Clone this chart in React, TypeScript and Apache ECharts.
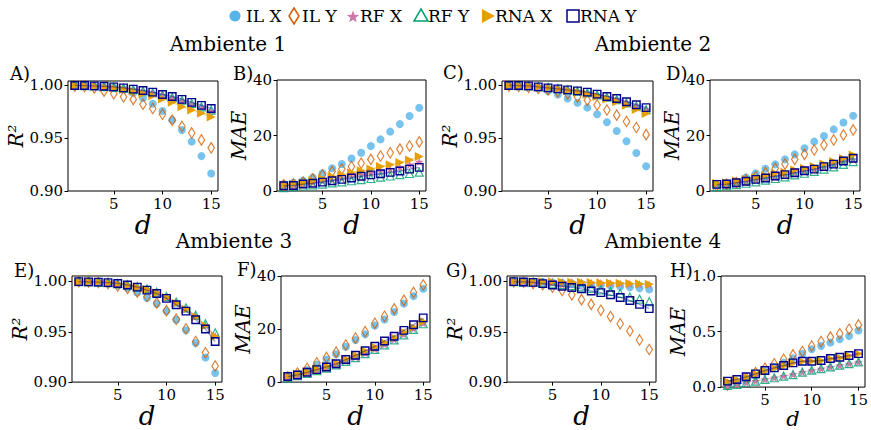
import React, { useEffect, useRef } from 'react';
import * as echarts from 'echarts';

// x values (d)
const dValues = [1, 2, 3, 4, 5, 6, 7, 8, 9, 10, 11, 12, 13, 14, 15];
const xTicks = [5, 10, 15];
const r2Ticks = [0.9, 0.95, 1.0];

const seriesNames = ['IL X', 'IL Y', 'RF X', 'RF Y', 'RNA X', 'RNA Y'];
const panelLetters = ['A)', 'B)', 'C)', 'D)', 'E)', 'F)', 'G)', 'H)'];
const envTitles = ['Ambiente 1', 'Ambiente 2', 'Ambiente 3', 'Ambiente 4'];

// Panel A (R2, Ambiente 1)
const A_ILX = [0.9999, 0.9997, 0.999, 0.998, 0.9975, 0.996, 0.9928, 0.988, 0.9825, 0.9757, 0.967, 0.9577, 0.9467, 0.933, 0.9165];
const A_ILY = [0.9991, 0.9988, 0.9975, 0.9944, 0.992, 0.989, 0.9866, 0.982, 0.978, 0.9726, 0.967, 0.961, 0.9549, 0.9483, 0.9408];
const A_RFX = [0.9998, 0.9996, 0.9992, 0.9987, 0.998, 0.997, 0.9958, 0.9943, 0.9925, 0.9903, 0.9878, 0.985, 0.9818, 0.979, 0.9757];
const A_RFY = [0.9998, 0.9996, 0.9993, 0.9988, 0.9982, 0.9972, 0.996, 0.9946, 0.9929, 0.9908, 0.9885, 0.9858, 0.9828, 0.9796, 0.9765];
const A_RNAX = [0.9998, 0.9995, 0.999, 0.998, 0.9975, 0.996, 0.9944, 0.992, 0.99, 0.987, 0.984, 0.9797, 0.9766, 0.9735, 0.97];
const A_RNAY = [0.9998, 0.9997, 0.9994, 0.999, 0.9984, 0.9975, 0.9963, 0.995, 0.9935, 0.9913, 0.9894, 0.9866, 0.9838, 0.981, 0.978];

// Panel B (MAE, Ambiente 1)
const B_ILX = [2.5, 3.0, 3.7, 4.9, 6.4, 8.2, 9.7, 11.7, 13.8, 16.2, 18.6, 21.4, 24.1, 27.0, 30.0];
const B_ILY = [2.2, 2.5, 3.2, 4.3, 5.8, 7.0, 7.9, 8.8, 10.0, 11.4, 12.6, 13.8, 15.1, 16.2, 17.7];
const B_RFX = [2.0, 2.2, 2.6, 3.0, 3.5, 4.0, 4.6, 5.2, 5.8, 6.5, 7.2, 7.9, 8.6, 9.5, 10.5];
const B_RFY = [1.2, 1.5, 1.8, 2.2, 2.5, 2.9, 3.3, 3.7, 4.1, 4.5, 5.0, 5.4, 5.9, 6.3, 6.8];
const B_RNAX = [2.2, 2.4, 3.0, 3.7, 4.4, 5.2, 5.9, 6.6, 7.3, 7.9, 8.8, 9.5, 10.3, 11.2, 12.4];
const B_RNAY = [1.9, 2.0, 2.5, 2.8, 3.2, 3.7, 4.2, 4.7, 5.3, 5.8, 6.2, 6.7, 7.2, 7.9, 8.5];

// Panel C (R2, Ambiente 2)
const C_ILX = [0.9999, 0.9996, 0.999, 0.9975, 0.9944, 0.9913, 0.9875, 0.9835, 0.9788, 0.9726, 0.965, 0.9567, 0.947, 0.936, 0.9234];
const C_ILY = [0.999, 0.9988, 0.998, 0.9969, 0.9956, 0.9938, 0.9919, 0.9888, 0.9857, 0.9813, 0.9766, 0.9717, 0.9657, 0.96, 0.9533];
const C_RFX = [0.9998, 0.9996, 0.9993, 0.9987, 0.998, 0.997, 0.9958, 0.9945, 0.993, 0.991, 0.9888, 0.9866, 0.9835, 0.9805, 0.9772];
const C_RFY = [0.9998, 0.9996, 0.9993, 0.9987, 0.998, 0.9969, 0.9957, 0.9944, 0.9929, 0.9909, 0.9887, 0.9864, 0.9833, 0.9803, 0.9768];
const C_RNAX = [0.9998, 0.9996, 0.9992, 0.9985, 0.9976, 0.9964, 0.995, 0.9935, 0.9915, 0.9893, 0.987, 0.9845, 0.981, 0.977, 0.9732];
const C_RNAY = [0.9998, 0.9997, 0.9994, 0.9984, 0.9975, 0.9966, 0.9956, 0.9947, 0.9935, 0.9916, 0.9894, 0.9875, 0.9844, 0.9816, 0.9788];

// Panel D (MAE, Ambiente 2)
const D_ILX = [2.2, 2.8, 3.4, 4.9, 6.4, 8.0, 9.6, 11.4, 13.2, 15.4, 17.8, 19.8, 22.2, 24.7, 27.1];
const D_ILY = [1.9, 2.4, 3.0, 4.0, 5.2, 6.6, 8.2, 9.7, 11.4, 13.2, 14.8, 16.6, 18.4, 20.2, 22.0];
const D_RFX = [2.2, 2.4, 2.8, 3.3, 3.9, 4.5, 5.1, 5.7, 6.4, 7.0, 7.7, 8.5, 9.4, 10.4, 11.4];
const D_RFY = [1.6, 1.9, 2.3, 2.8, 3.3, 3.9, 4.5, 5.1, 5.8, 6.4, 7.1, 7.9, 8.7, 9.6, 10.6];
const D_RNAX = [2.8, 3.0, 3.7, 4.2, 4.9, 5.6, 6.4, 6.8, 7.6, 8.2, 8.8, 9.7, 10.6, 11.7, 13.0];
const D_RNAY = [2.4, 2.5, 3.0, 3.5, 4.2, 4.7, 5.4, 5.9, 6.6, 7.3, 7.9, 8.8, 9.7, 10.8, 11.8];

// Panel E (R2, Ambiente 3)
const E_ILX = [0.9998, 0.9995, 0.999, 0.9978, 0.9959, 0.9933, 0.989, 0.9835, 0.9778, 0.9705, 0.962, 0.9514, 0.9388, 0.9245, 0.909];
const E_ILY = [0.9998, 0.9995, 0.999, 0.998, 0.9955, 0.993, 0.9895, 0.985, 0.9787, 0.971, 0.9625, 0.953, 0.9403, 0.9292, 0.916];
const E_RFX = [0.9998, 0.9997, 0.9994, 0.9986, 0.9976, 0.9963, 0.9945, 0.9922, 0.9888, 0.9843, 0.9787, 0.9727, 0.9655, 0.9565, 0.946];
const E_RFY = [0.9998, 0.9997, 0.9994, 0.9987, 0.9978, 0.9966, 0.9948, 0.9926, 0.9893, 0.985, 0.9796, 0.9738, 0.9665, 0.958, 0.949];
const E_RNAX = [0.9998, 0.9996, 0.9994, 0.9985, 0.9975, 0.9962, 0.9943, 0.992, 0.9886, 0.984, 0.9784, 0.9724, 0.965, 0.956, 0.9455];
const E_RNAY = [0.9998, 0.9996, 0.9993, 0.9988, 0.998, 0.9965, 0.9943, 0.9914, 0.988, 0.9832, 0.9768, 0.9705, 0.962, 0.9527, 0.9403];

// Panel F (MAE, Ambiente 3)
const F_ILX = [1.8, 3.0, 4.5, 6.6, 8.5, 10.5, 13.3, 15.9, 18.0, 21.3, 23.6, 26.4, 29.6, 32.4, 35.2];
const F_ILY = [2.0, 3.4, 5.2, 7.3, 9.3, 11.3, 14.0, 16.6, 19.0, 22.2, 24.8, 27.6, 30.8, 33.8, 36.6];
const F_RFX = [1.8, 2.6, 3.5, 4.5, 5.5, 6.7, 8.0, 9.4, 10.9, 12.5, 14.2, 16.1, 18.0, 20.1, 22.2];
const F_RFY = [1.6, 2.4, 3.3, 4.3, 5.3, 6.5, 7.8, 9.2, 10.7, 12.3, 14.0, 15.9, 17.8, 19.9, 22.0];
const F_RNAX = [2.1, 3.0, 3.9, 4.9, 6.0, 7.3, 8.7, 10.1, 11.7, 13.2, 14.9, 16.8, 18.9, 20.7, 22.8];
const F_RNAY = [2.1, 2.7, 3.7, 4.7, 5.7, 6.9, 8.5, 10.1, 11.8, 13.5, 15.5, 17.3, 19.5, 21.6, 24.2];

// Panel G (R2, Ambiente 4)
const G_ILX = [0.9999, 0.9998, 0.9996, 0.9993, 0.999, 0.9986, 0.9981, 0.9976, 0.997, 0.9964, 0.9957, 0.995, 0.9943, 0.9933, 0.9921];
const G_ILY = [0.9996, 0.9992, 0.998, 0.9968, 0.9943, 0.991, 0.9867, 0.9819, 0.9772, 0.9714, 0.9651, 0.958, 0.9508, 0.9419, 0.9324];
const G_RFX = [0.9999, 0.9999, 0.9998, 0.9997, 0.9996, 0.9994, 0.9992, 0.999, 0.9987, 0.9984, 0.9981, 0.9978, 0.9975, 0.9971, 0.9967];
const G_RFY = [0.9998, 0.9996, 0.9992, 0.9985, 0.9977, 0.9968, 0.9958, 0.9946, 0.9932, 0.9917, 0.99, 0.9882, 0.9845, 0.9825, 0.98];
const G_RNAX = [0.9999, 0.9999, 0.9998, 0.9997, 0.9996, 0.9995, 0.9993, 0.9991, 0.9989, 0.9987, 0.9985, 0.9982, 0.9979, 0.9976, 0.9973];
const G_RNAY = [0.9998, 0.9995, 0.9991, 0.9978, 0.9965, 0.9952, 0.994, 0.9927, 0.9905, 0.9889, 0.9867, 0.9841, 0.981, 0.9772, 0.973];

// Panel H (MAE, Ambiente 4)
const H_ILX = [0.01, 0.03, 0.06, 0.1, 0.14, 0.18, 0.22, 0.26, 0.3, 0.34, 0.37, 0.4, 0.43, 0.46, 0.51];
const H_ILY = [0.02, 0.04, 0.08, 0.13, 0.17, 0.21, 0.25, 0.29, 0.32, 0.37, 0.41, 0.45, 0.48, 0.52, 0.56];
const H_RFX = [0.015, 0.025, 0.04, 0.055, 0.07, 0.085, 0.1, 0.115, 0.135, 0.15, 0.165, 0.18, 0.195, 0.21, 0.225];
const H_RFY = [0.015, 0.024, 0.039, 0.054, 0.069, 0.084, 0.099, 0.113, 0.134, 0.152, 0.167, 0.182, 0.197, 0.212, 0.227];
const H_RNAX = [0.05, 0.065, 0.09, 0.12, 0.145, 0.17, 0.19, 0.215, 0.23, 0.232, 0.238, 0.255, 0.265, 0.28, 0.3];
const H_RNAY = [0.054, 0.069, 0.093, 0.119, 0.149, 0.173, 0.194, 0.218, 0.233, 0.233, 0.239, 0.257, 0.269, 0.284, 0.301];

const panelData = [
  [A_ILX, A_ILY, A_RFX, A_RFY, A_RNAX, A_RNAY],
  [B_ILX, B_ILY, B_RFX, B_RFY, B_RNAX, B_RNAY],
  [C_ILX, C_ILY, C_RFX, C_RFY, C_RNAX, C_RNAY],
  [D_ILX, D_ILY, D_RFX, D_RFY, D_RNAX, D_RNAY],
  [E_ILX, E_ILY, E_RFX, E_RFY, E_RNAX, E_RNAY],
  [F_ILX, F_ILY, F_RFX, F_RFY, F_RNAX, F_RNAY],
  [G_ILX, G_ILY, G_RFX, G_RFY, G_RNAX, G_RNAY],
  [H_ILX, H_ILY, H_RFX, H_RFY, H_RNAX, H_RNAY],
];

// ---------------- layout / styles ----------------
const FONT = 'DejaVu Serif';
const STAR = 'path://M0,-10L2.35,-3.24L9.51,-3.09L3.8,1.24L5.88,8.09L0,4L-5.88,8.09L-3.8,1.24L-9.51,-3.09L-2.35,-3.24Z';
const COLORS = ['#56B4E9', '#D55E00', '#CC79A7', '#009E73', '#E69F00', '#00008B'];

// kind: r2 | mae | mae1
const layout = [
  { left: 68, top: 81, w: 150, h: 110, kind: 'r2', max: 1.004, yGap: 33, xGap: 17, xFont: 26, lx: 10, ly: 73 },
  { left: 277, top: 80, w: 149, h: 111, kind: 'mae', yGap: 21, xGap: 17, xFont: 26, lx: 233, ly: 73 },
  { left: 502, top: 81, w: 151, h: 110, kind: 'r2', max: 1.004, yGap: 37, xGap: 17, xFont: 26, lx: 443, ly: 72 },
  { left: 710, top: 80, w: 150, h: 111, kind: 'mae', yGap: 16, xGap: 17, xFont: 26, lx: 666, ly: 73 },
  { left: 72, top: 276, w: 150, h: 111, kind: 'r2', max: 1.0054, yGap: 34, xGap: 19, xFont: 26, lx: 14, ly: 270 },
  { left: 281, top: 276, w: 149, h: 112, kind: 'mae', yGap: 20, xGap: 19, xFont: 26, lx: 237, ly: 269 },
  { left: 507, top: 276, w: 149, h: 111, kind: 'r2', max: 1.0054, yGap: 33, xGap: 19, xFont: 26, lx: 446, ly: 270 },
  { left: 721, top: 276, w: 148, h: 112, kind: 'mae1', yGap: 25, xGap: 15, xFont: 21, lx: 670, ly: 270 },
];

const titlePos = [
  { x: 228, y: 44 },
  { x: 653, y: 44 },
  { x: 234, y: 241 },
  { x: 663, y: 241 },
];

function seriesStyle(k: number) {
  const c = COLORS[k];
  switch (k) {
    case 0:
      return { symbol: 'circle', symbolSize: 8, itemStyle: { color: c } };
    case 1:
      return { symbol: 'diamond', symbolSize: [6.5, 10.5], itemStyle: { color: 'rgba(0,0,0,0)', borderColor: c, borderWidth: 1.2 } };
    case 2:
      return { symbol: STAR, symbolSize: 8.5, itemStyle: { color: c } };
    case 3:
      return { symbol: 'triangle', symbolSize: 8, itemStyle: { color: 'rgba(0,0,0,0)', borderColor: c, borderWidth: 1.2 } };
    case 4:
      return { symbol: 'triangle', symbolSize: 9, symbolRotate: -90, itemStyle: { color: c } };
    default:
      return { symbol: 'rect', symbolSize: 7.5, itemStyle: { color: 'rgba(0,0,0,0)', borderColor: c, borderWidth: 1.4 } };
  }
}

function buildOption() {
  const grid: any[] = [];
  const xAxis: any[] = [];
  const yAxis: any[] = [];
  const series: any[] = [];

  layout.forEach((p, i) => {
    grid.push({ left: p.left, top: p.top, width: p.w, height: p.h, show: true, borderColor: '#000', borderWidth: 1, containLabel: false });
    xAxis.push({
      gridIndex: i,
      type: 'value',
      min: 0.3,
      max: 15.7,
      axisLine: { show: false },
      splitLine: { show: false },
      axisTick: { show: true, length: 3.5, customValues: xTicks, lineStyle: { color: '#000' } },
      axisLabel: { customValues: xTicks, fontFamily: FONT, fontSize: 15, color: '#000', margin: 5 },
      name: 'd',
      nameLocation: 'middle',
      nameGap: p.xGap,
      nameTextStyle: { fontFamily: FONT, fontStyle: 'italic', fontSize: p.xFont, color: '#000' },
    });
    const yBase: any = {
      gridIndex: i,
      type: 'value',
      axisLine: { show: false },
      splitLine: { show: false },
      nameLocation: 'middle',
      nameGap: p.yGap,
      nameTextStyle: { fontFamily: FONT, fontStyle: 'italic', fontSize: 20, color: '#000' },
    };
    if (p.kind === 'r2') {
      yAxis.push({
        ...yBase,
        min: 0.9,
        max: p.max,
        name: 'R²',
        axisTick: { show: true, length: 3.5, customValues: r2Ticks, lineStyle: { color: '#000' } },
        axisLabel: { customValues: r2Ticks, formatter: (v: number) => v.toFixed(2), fontFamily: FONT, fontSize: 15, color: '#000', margin: 5 },
      });
    } else if (p.kind === 'mae') {
      yAxis.push({
        ...yBase,
        min: 0,
        max: 40,
        interval: 20,
        name: 'MAE',
        axisTick: { show: true, length: 3.5, lineStyle: { color: '#000' } },
        axisLabel: { fontFamily: FONT, fontSize: 15, color: '#000', margin: 5 },
      });
    } else {
      yAxis.push({
        ...yBase,
        min: 0,
        max: 1,
        interval: 0.5,
        name: 'MAE',
        axisTick: { show: true, length: 3.5, lineStyle: { color: '#000' } },
        axisLabel: { formatter: (v: number) => v.toFixed(1), fontFamily: FONT, fontSize: 15, color: '#000', margin: 5 },
      });
    }

    panelData[i].forEach((arr, k) => {
      const withLine = k === 2 || k === 4 || k === 5;
      const st = seriesStyle(k);
      series.push({
        name: seriesNames[k],
        type: withLine ? 'line' : 'scatter',
        xAxisIndex: i,
        yAxisIndex: i,
        data: dValues.map((d, j) => [d, arr[j]]),
        ...st,
        ...(withLine
          ? { showSymbol: true, showAllSymbol: true, lineStyle: { color: COLORS[k], width: 1.3, opacity: 0.4 } }
          : {}),
        z: 2 + k,
        silent: true,
      });
    });
  });

  // graphic: legend, titles, panel letters
  const graphic: any[] = [];
  const ly = 16;
  const lf = `17px "${FONT}"`;
  const legendItems = [
    { sx: 235, tx: 246, text: 'IL X' },
    { sx: 294, tx: 302, text: 'IL Y' },
    { sx: 353, tx: 360, text: 'RF X' },
    { sx: 421, tx: 428, text: 'RF Y' },
    { sx: 488, tx: 495, text: 'RNA X' },
    { sx: 573, tx: 580, text: 'RNA Y' },
  ];
  const starPts: number[][] = [];
  for (let q = 0; q < 10; q++) {
    const r = q % 2 === 0 ? 6.5 : 2.7;
    const a = -Math.PI / 2 + (q * Math.PI) / 5;
    starPts.push([r * Math.cos(a), r * Math.sin(a)]);
  }
  legendItems.forEach((it, k) => {
    const c = COLORS[k];
    const cx = it.sx;
    if (k === 0) graphic.push({ type: 'circle', shape: { cx, cy: ly, r: 5.5 }, style: { fill: c } });
    if (k === 1)
      graphic.push({ type: 'polygon', shape: { points: [[cx, ly - 8], [cx + 5, ly], [cx, ly + 8], [cx - 5, ly]] }, style: { fill: 'none', stroke: c, lineWidth: 1.5 } });
    if (k === 2)
      graphic.push({ type: 'polygon', shape: { points: starPts.map((p) => [cx + p[0], ly + 1 + p[1]]) }, style: { fill: c } });
    if (k === 3)
      graphic.push({ type: 'polygon', shape: { points: [[cx, ly - 7], [cx + 7, ly + 5], [cx - 7, ly + 5]] }, style: { fill: 'none', stroke: c, lineWidth: 1.5 } });
    if (k === 4)
      graphic.push({ type: 'polygon', shape: { points: [[cx - 6, ly - 7], [cx + 7, ly], [cx - 6, ly + 7]] }, style: { fill: c } });
    if (k === 5)
      graphic.push({ type: 'rect', shape: { x: cx - 6, y: ly - 6, width: 12, height: 12 }, style: { fill: 'none', stroke: c, lineWidth: 1.5 } });
    graphic.push({
      type: 'text',
      x: it.tx,
      y: ly,
      style: { text: it.text, font: lf, fill: '#000', align: 'left', verticalAlign: 'middle', textAlign: 'left', textVerticalAlign: 'middle' },
    });
  });

  envTitles.forEach((t, i) => {
    graphic.push({
      type: 'text',
      x: titlePos[i].x,
      y: titlePos[i].y,
      style: { text: t, font: `20px "${FONT}"`, fill: '#000', align: 'center', verticalAlign: 'middle', textAlign: 'center', textVerticalAlign: 'middle' },
    });
  });

  layout.forEach((p, i) => {
    graphic.push({
      type: 'text',
      x: p.lx,
      y: p.ly,
      style: { text: panelLetters[i], font: `18px "${FONT}"`, fill: '#000', align: 'left', verticalAlign: 'middle', textAlign: 'left', textVerticalAlign: 'middle' },
    });
  });

  return {
    animation: false,
    backgroundColor: '#fff',
    grid,
    xAxis,
    yAxis,
    series,
    graphic,
  };
}

export default function App() {
  const ref = useRef<HTMLDivElement>(null);
  useEffect(() => {
    if (!ref.current) return;
    const chart = echarts.init(ref.current, undefined, { renderer: 'svg' });
    chart.setOption(buildOption() as any);
    return () => chart.dispose();
  }, []);
  return <div ref={ref} style={{ position: 'fixed', left: 0, top: 0, width: 871, height: 430 }} />;
}
